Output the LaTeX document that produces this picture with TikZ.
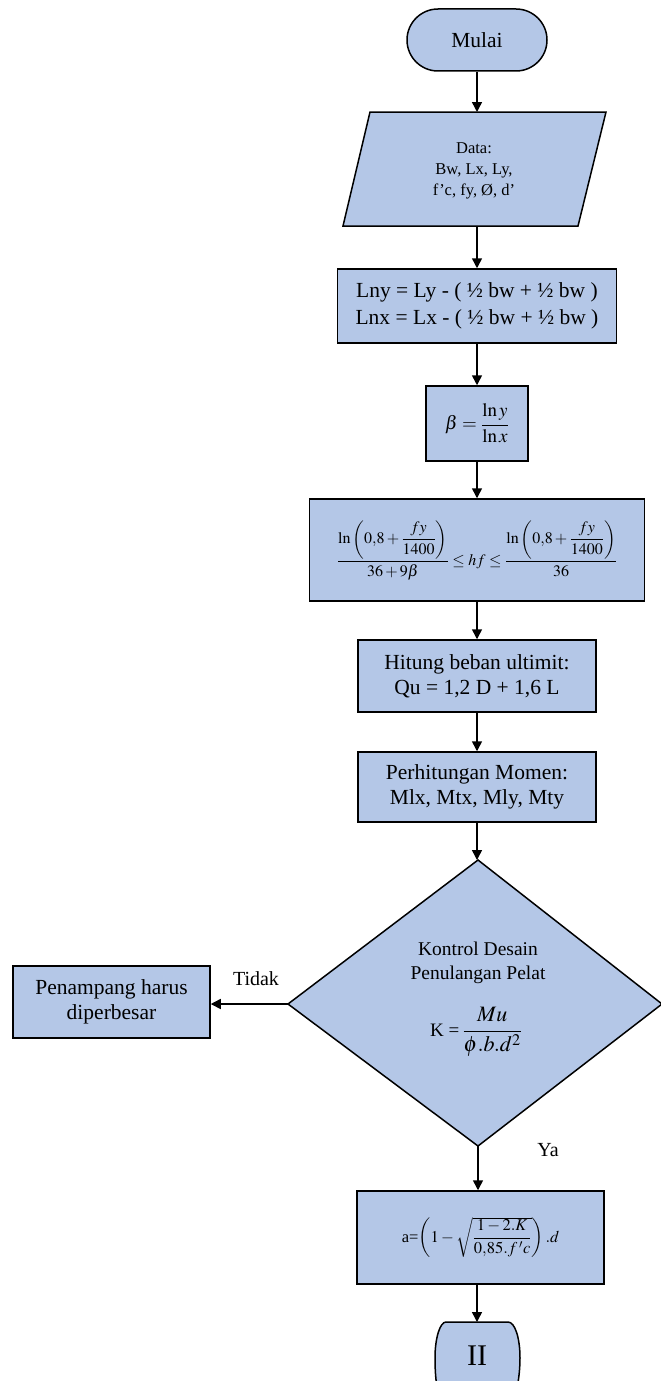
\documentclass[tikz,border=0pt]{standalone}
\usepackage{amsmath}
\usepackage{mathptmx}
\usepackage{fontspec}
\setmainfont{Liberation Serif}
\usetikzlibrary{arrows.meta}
\definecolor{boxfill}{RGB}{180,199,231}
\begin{document}
\begin{tikzpicture}[x=1pt,y=-1pt,
  box/.style={draw=black,line width=1.5pt,fill=boxfill,align=center,inner sep=0pt},
  shapeline/.style={draw=black,line width=1.5pt,fill=boxfill},
  flow/.style={line width=1.5pt,-{Triangle[length=10pt,width=10pt]}},
  lbl/.style={font=\fontsize{20}{22}\selectfont},
  big/.style={font=\fontsize{21.5}{25}\selectfont}]
\useasboundingbox (0,0) rectangle (661,1381);

% start terminal
\node[box,rounded corners=31pt,minimum width=140pt,minimum height=62pt,big] (start) at (477,40) {Mulai};

% input parallelogram
\coordinate (pTL) at (370,112);
\coordinate (pTR) at (606,112);
\coordinate (pBR) at (578,226);
\coordinate (pBL) at (343,226);
\coordinate (dataIn) at (477,112);
\coordinate (dataOut) at (477,226);
\path[shapeline] (pTL) -- (pTR) -- (pBR) -- (pBL) -- cycle;
\node[align=center,font=\fontsize{16.5}{21}\selectfont] (data) at (474,171) {Data:\\Bw, Lx, Ly,\\f’c, fy, Ø, d’};

% clear spans
\node[box,minimum width=279pt,minimum height=74pt,font=\fontsize{21.5}{27}\selectfont] (ln) at (477,306)
  {Lny = Ly - ( ½ bw + ½ bw )\\Lnx = Lx - ( ½ bw + ½ bw )};

% ratio
\node[box,minimum width=102pt,minimum height=75pt,font=\fontsize{19}{22}\selectfont] (beta) at (477,423.5)
  {$\beta=\dfrac{\ln y}{\ln x}$};

% slab thickness limits
\node[box,minimum width=335pt,minimum height=102pt,font=\fontsize{16}{20}\selectfont] (hf) at (477,550)
  {$\dfrac{\ln\left(0{,}8+\dfrac{fy}{1400}\right)}{36+9\beta}\le hf\le\dfrac{\ln\left(0{,}8+\dfrac{fy}{1400}\right)}{36}$};

% loads and moments
\node[box,minimum width=238pt,minimum height=72pt,big] (qu) at (477,676)
  {Hitung beban ultimit:\\Qu = 1,2 D + 1,6 L};
\node[box,minimum width=238pt,minimum height=70pt,big] (mom) at (477,787)
  {Perhitungan Momen:\\Mlx, Mtx, Mly, Mty};

% decision
\coordinate (dT) at (478,860);
\coordinate (dR) at (662,1004);
\coordinate (dB) at (478,1146);
\coordinate (dL) at (288,1004);
\path[shapeline] (dT) -- (dR) -- (dB) -- (dL) -- cycle;
\node[align=center,font=\fontsize{19.5}{24}\selectfont] (ktext) at (478,963) {Kontrol Desain\\Penulangan Pelat};
\node[inner sep=0pt] (kform) at (476,1032)
  {{\fontsize{19}{22}\selectfont K =\,}{\fontsize{22}{26}\selectfont$\dfrac{Mu}{\phi.b.d^{2}}$}};

% enlarge section
\node[box,minimum width=197pt,minimum height=72pt,big] (pen) at (111.5,1002)
  {Penampang harus\\diperbesar};
\node[lbl] (tidak) at (256,979) {Tidak};
\node[lbl] (ya) at (548,1150) {Ya};

% depth of compression block
\node[box,minimum width=247pt,minimum height=93pt,font=\fontsize{16.5}{20}\selectfont] (abox) at (480.5,1237.5)
  {a=$\left(1-\sqrt{\dfrac{1-2.K}{0{,}85.f\,'c}}\right).d$};

% off-page connector
\coordinate (endTop) at (477,1322);
\path[shapeline] (446,1322) -- (508,1322)
  .. controls (515,1322) and (520,1338) .. (520,1358)
  .. controls (520,1372) and (518,1385) .. (515,1398)
  -- (439,1398)
  .. controls (436,1385) and (435,1372) .. (435,1358)
  .. controls (435,1338) and (440,1322) .. (446,1322) -- cycle;
\node[font=\fontsize{30}{32}\selectfont] (endlbl) at (477,1356) {II};

% connectors
\draw[flow] (start.south) -- (dataIn);
\draw[flow] (dataOut) -- (ln.north);
\draw[flow] (ln.south) -- (beta.north);
\draw[flow] (beta.south) -- (hf.north);
\draw[flow] (hf.south) -- (qu.north);
\draw[flow] (qu.south) -- (mom.north);
\draw[flow] (mom.south) -- (mom.south |- dT);
\draw[flow] (dL) -- (dL -| pen.east);
\draw[flow] (dB) -- (dB |- abox.north);
\draw[flow] (abox.south -| endTop) -- (endTop);
\end{tikzpicture}
\end{document}
